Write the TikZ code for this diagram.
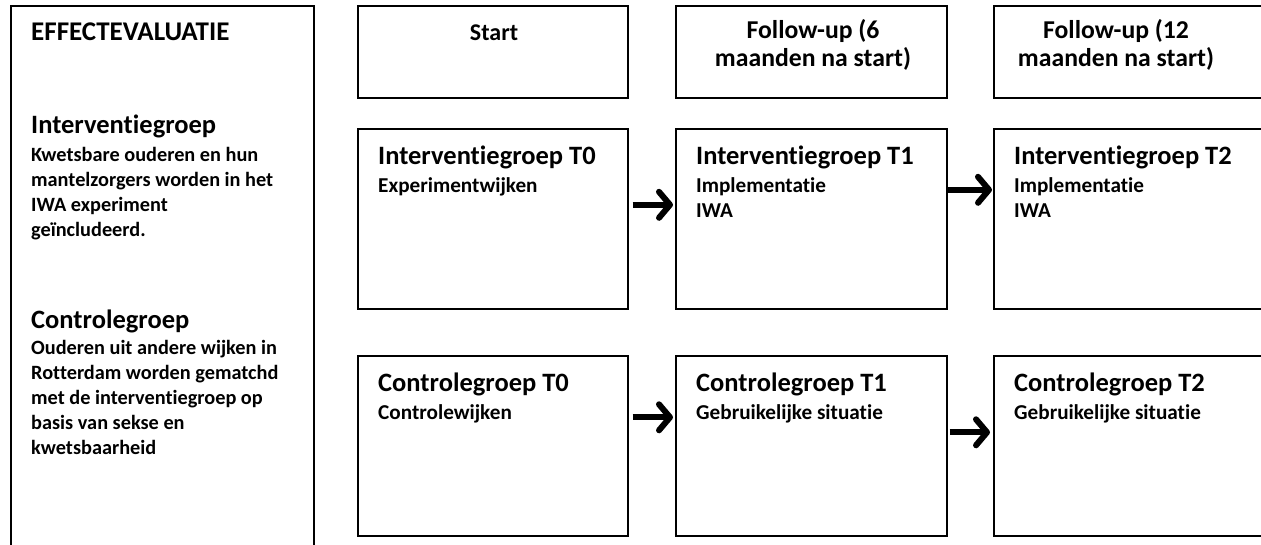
\documentclass[tikz,border=0pt]{standalone}
\usepackage{fontspec}
\setmainfont{Carlito}[Ligatures=NoCommon]
\usetikzlibrary{arrows.meta}
\newcommand{\bodyf}{\fontsize{20.3}{25}\selectfont}
\newcommand{\headf}{\fontsize{26.5}{31}\selectfont}
\newcommand{\hdrf}{\fontsize{25.7}{28}\selectfont}
\newcommand{\subf}{\fontsize{21.2}{25}\selectfont}
\tikzset{
  box/.style={draw=black, line width=1.6pt, rectangle, anchor=north west, inner sep=0pt, minimum width=270pt},
  hdrbox/.style={box, minimum height=92pt},
  grpbox/.style={box, minimum height=180pt},
  txt/.style={anchor=base west, inner sep=0pt, font=\bfseries},
  ctxt/.style={anchor=base, inner sep=0pt, font=\bfseries},
  conn/.style={line width=6pt, -{Straight Barb[length=11pt,width=26pt,round]}},
}
\begin{document}
\begin{tikzpicture}[x=1pt,y=-1pt]
\clip (0,0) rectangle (1261,544);
\fill[white] (0,0) rectangle (1261,544);
% left column
\node[box, minimum width=303pt, minimum height=570pt] (left) at (10,5) {};
\node[txt] (eff) at (31,40) {\fontsize{27}{30}\selectfont EFFECTEVALUATIE};
\node[txt] (ih) at (31,133) {\headf Interventiegroep};
\node[txt] (ib) at (31,161) {\parbox[t]{280pt}{\bodyf\bfseries\raggedright Kwetsbare ouderen en hun\\mantelzorgers worden in het\\IWA experiment\\geïncludeerd.}};
\node[txt] (ch) at (31,328) {\headf Controlegroep};
\node[txt] (cb) at (31,354) {\parbox[t]{280pt}{\bodyf\bfseries\raggedright Ouderen uit andere wijken in\\Rotterdam worden gematchd\\met de interventiegroep op\\basis van sekse en\\kwetsbaarheid}};
% header boxes
\node[hdrbox] (h0) at (357,5) {};
\node[hdrbox, minimum width=271pt] (h1) at (675,5) {};
\node[hdrbox] (h2) at (993,5) {};
\node[ctxt] (h0t) at (494,40) {\fontsize{24}{28}\selectfont Start};
\node[ctxt] (h1t) at (813,38) {\parbox[t]{260pt}{\hdrf\bfseries\centering Follow-up (6\\maanden na start)}};
\node[ctxt] (h2t) at (1116,38) {\parbox[t]{260pt}{\hdrf\bfseries\centering Follow-up (12\\maanden na start)}};
% intervention row
\node[grpbox] (i0) at (357,128) {};
\node[grpbox, minimum width=271pt] (i1) at (675,128) {};
\node[grpbox] (i2) at (993,128) {};
\node[txt] (i0t) at (378,164) {\headf Interventiegroep T0};
\node[txt] (i0s) at (378,192) {\subf Experimentwijken};
\node[txt] (i1t) at (696,164) {\headf Interventiegroep T1};
\node[txt] (i1s) at (696,192) {\parbox[t]{240pt}{\subf\bfseries Implementatie\\IWA}};
\node[txt] (i2t) at (1014,164) {\headf Interventiegroep T2};
\node[txt] (i2s) at (1014,192) {\parbox[t]{240pt}{\subf\bfseries Implementatie\\IWA}};
% control row
\node[grpbox] (c0) at (357,355) {};
\node[grpbox, minimum width=271pt] (c1) at (675,355) {};
\node[grpbox] (c2) at (993,355) {};
\node[txt] (c0t) at (378,391) {\headf Controlegroep T0};
\node[txt] (c0s) at (378,419) {\subf Controlewijken};
\node[txt] (c1t) at (696,391) {\headf Controlegroep T1};
\node[txt] (c1s) at (696,419) {\subf Gebruikelijke situatie};
\node[txt] (c2t) at (1014,391) {\headf Controlegroep T2};
\node[txt] (c2s) at (1014,419) {\subf Gebruikelijke situatie};
% connectors
\draw[conn, shorten <=4pt, shorten >=2pt] ([yshift=14pt]i0.east) -- ([yshift=14pt]i1.west);
\draw[conn, shorten >=1pt] ([yshift=29pt]i1.east) -- ([yshift=29pt]i2.west);
\draw[conn, shorten <=4pt, shorten >=2pt] ([yshift=28.5pt]c0.east) -- ([yshift=28.5pt]c1.west);
\draw[conn, shorten <=2pt, shorten >=3pt] ([yshift=13.5pt]c1.east) -- ([yshift=13.5pt]c2.west);
\end{tikzpicture}
\end{document}
